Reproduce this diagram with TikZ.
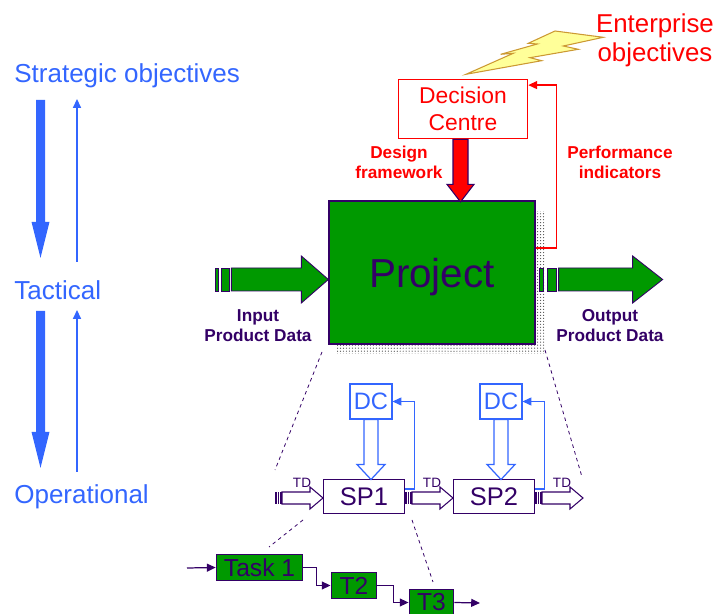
\documentclass[tikz,border=0pt]{standalone}
\usepackage{fontspec}
\setmainfont{Liberation Sans}
\usetikzlibrary{arrows.meta,patterns.meta}

\definecolor{bluec}{RGB}{51,102,255}
\definecolor{redc}{RGB}{255,0,0}
\definecolor{greenc}{RGB}{0,153,0}
\definecolor{purplec}{RGB}{51,0,102}
\definecolor{boltfill}{RGB}{255,255,153}
\definecolor{boltdraw}{RGB}{204,153,51}

\begin{document}
\begin{tikzpicture}
        [%%%%%%%%%%%%%%%%%%%%%%%%%%%%%%
        x=0.02cm,y=-0.02cm,
        level/.style={text=bluec,font=\fontsize{14.8}{17}\selectfont,inner sep=0pt,anchor=base west},
        thinup/.style={draw=bluec,line width=0.75pt,-{Triangle[length=5pt,width=4.5pt]}},
        note/.style={font=\fontsize{9.8}{11.7}\selectfont\bfseries,align=center,inner sep=0pt},
        greenblock/.style={fill=greenc,draw=purplec,line width=0.5pt},
        hollow/.style={fill=white,draw=purplec,line width=0.6pt},
        hollowb/.style={fill=white,draw=bluec,line width=0.7pt},
        subbox/.style={draw=purplec,fill=white,line width=0.6pt,minimum width=46.5pt,minimum height=19.8pt,
          inner sep=0pt,text=purplec,font=\fontsize{14.5}{17}\selectfont},
        dcbox/.style={draw=bluec,fill=white,line width=0.7pt,minimum width=23.8pt,minimum height=19.8pt,
          inner sep=0pt,text=bluec,font=\fontsize{13.5}{16}\selectfont},
        feedback/.style={draw=bluec,line width=0.7pt,-{Triangle[length=5pt,width=4.5pt]}},
        task/.style={draw=purplec,fill=greenc,line width=0.6pt,minimum height=15.3pt,inner sep=0pt,
          text=purplec,font=\fontsize{14}{16}\selectfont},
        link/.style={draw=purplec,line width=0.7pt,-{Triangle[length=5pt,width=4.5pt]}},
        zoomline/.style={draw=purplec,line width=0.45pt,dash pattern=on 2pt off 2pt},
        ]%%%%%%%%%%%%%%%%%%%%%%%%%%%%%%
        \useasboundingbox (0,0) rectangle (714,614);

        % levels on the left
        \node[level] (strat) at (14,83) {Strategic objectives};
        \node[level] (tact) at (14,300) {Tactical};
        \node[level] (oper) at (14,504) {Operational};
        \foreach \t/\b in {100/258,311/468}{
          \fill[bluec] (36,\t) -- (45,\t) -- (45,\b-36) -- (49.5,\b-36) -- (40.5,\b) -- (31.5,\b-36) -- (36,\b-36) -- cycle;
          \draw[thinup] (77,\b+4) -- (77,\t-1);
        }

        % enterprise level
        \draw[fill=boltfill,draw=boltdraw,line width=0.6pt] (466,74.3) -- (513.3,53.3) -- (500.7,54.3)
          -- (537.3,44) -- (528.3,43.3) -- (555,31) -- (603.3,37.3) -- (563.3,46) -- (578.3,49.3)
          -- (530,57.7) -- (541.7,60.7) -- cycle;
        \node[text=redc,font=\fontsize{14.7}{16.4}\selectfont,align=center,inner sep=0pt] (ent) at (655,40.7) {Enterprise\\objectives};
        \node[draw=redc,fill=white,line width=0.6pt,minimum width=73.7pt,minimum height=34pt,inner sep=0pt,
          align=center,text=redc,font=\fontsize{13}{15.3}\selectfont] (centre) at (463,109) {Decision\\Centre};

        % project
        \fill[pattern={Dots[distance=1.7pt,radius=0.35pt]},pattern color=black!70] (337,212) rectangle (544,354);
        \node[draw=purplec,fill=greenc,line width=1.2pt,minimum width=116.8pt,minimum height=81.1pt,inner sep=0pt,
          text depth=0pt,text=purplec,font=\fontsize{23}{26}\selectfont] (proj) at (432,272.5) {Project};
        \draw[fill=redc,draw=purplec,line width=0.6pt] (centre.south) ++(-10,0) -- ++(0,45) -- ++(-6,0)
          -- ++(13.5,17.5) -- ++(13.5,-17.5) -- ++(-6,0) -- ++(0,-45) -- cycle;
        \node[note,text=redc] (design) at (399,162.3) {Design\\framework};
        \node[note,text=redc] (perf) at (620,162.3) {Performance\\indicators};
        \draw[redc,line width=0.7pt,-{Triangle[length=5pt,width=4.5pt]}] ([yshift=13.9pt]proj.east) -- ++(21,0) |- ([yshift=13.6pt]centre.east);

        % product data in and out
        \draw[greenblock] (proj.west) ++(0,7) -- ++(-27,-23.5) -- ++(0,12) -- ++(-70,0) -- ++(0,23)
          -- ++(70,0) -- ++(0,12) -- cycle;
        \draw[greenblock] (215,268) rectangle (218.5,291);
        \draw[greenblock] (221.5,268) rectangle (229,291);
        \draw[greenblock] (proj.east) ++(23,-4.5) -- ++(74,0) -- ++(0,-12) -- ++(30,23.5) -- ++(-30,23.5)
          -- ++(0,-12) -- ++(-74,0) -- cycle;
        \draw[greenblock] (539.5,268) rectangle (543,291);
        \draw[greenblock] (547,268) rectangle (556,291);
        \node[note,text=purplec] (inlab) at (258,325.7) {Input\\Product Data};
        \node[note,text=purplec] (outlab) at (610,325.7) {Output\\Product Data};

        % sub-projects
        \draw[zoomline] (322,352) -- (275,470);
        \draw[zoomline] (545,350) -- (582,477);
        \foreach \i/\x in {1/364,2/494}{
          \node[subbox] (sp\i) at (\x,496.5) {SP\i};
          \node[dcbox] (dc\i) at (\x+7,401.5) {DC};
          \draw[hollowb] (dc\i.south) ++(-7,0) -- ++(0,45) -- ++(-7,0) -- ++(14,15) -- ++(14,-15)
            -- ++(-7,0) -- ++(0,-45) -- cycle;
          \draw[feedback] ([yshift=4.25pt]sp\i.east) -- ++(9,0) |- (dc\i.east);
        }
        \foreach \x [count=\k] in {275,405,535}{
          \foreach \b in {0,2.6,5.2}
            \fill[purplec] (\x+\b,492) rectangle ++(1.8,12);
          \draw[hollow] (\x+7,492) -- ++(28,0) -- ++(0,-5) -- ++(13,11) -- ++(-13,11) -- ++(0,-5)
            -- ++(-28,0) -- cycle;
          \node[text=purplec,font=\fontsize{7.7}{9}\selectfont,inner sep=0pt] (td\k) at (\x+27,483) {TD};
        }

        % tasks
        \draw[zoomline] (303,520) -- (269,547);
        \draw[zoomline] (412,520) -- (433,582);
        \node[task,minimum width=49.3pt] (task1) at (259.5,567.5) {Task 1};
        \node[task,minimum width=26.1pt] (task2) at (354,585.5) {T2};
        \node[task,minimum width=25.5pt] (task3) at (431.5,602.5) {T3};
        \coordinate (tin) at (187,568);
        \coordinate (tout) at (480,603);
        \draw[link] (tin) -- (task1.west);
        \draw[link] (task1.east) -- ++(13,0) |- (task2.west);
        \draw[link] (task2.east) -- ++(16,0) |- (task3.west);
        \draw[link] (task3.east) -- (tout);

      \end{tikzpicture}
\end{document}
